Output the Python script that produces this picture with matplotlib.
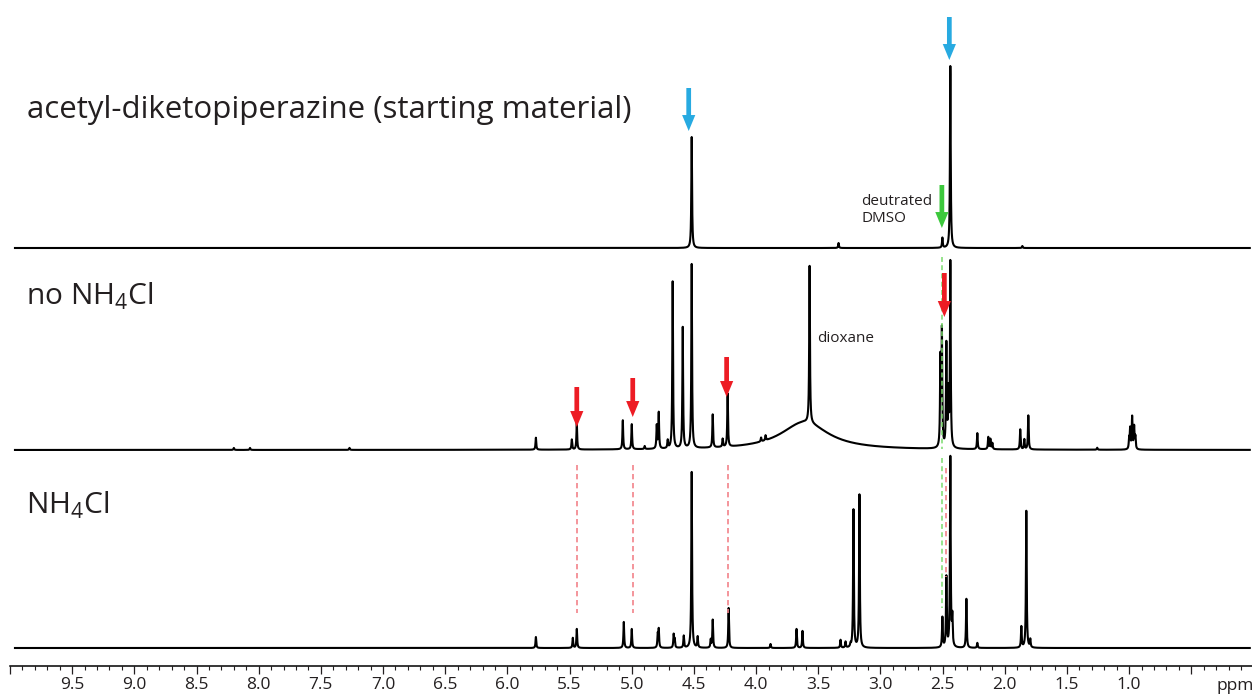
import numpy as np
import matplotlib
matplotlib.use("Agg")
import matplotlib.pyplot as plt
from matplotlib.ticker import MultipleLocator

plt.rcParams['font.family'] = ['Open Sans', 'DejaVu Sans']
plt.rcParams['mathtext.fontset'] = 'custom'
plt.rcParams['mathtext.rm'] = 'Open Sans'

# ---------------- data (ppm positions, peak heights) ----------------
labels = ["acetyl-diketopiperazine (starting material)", "no NH$_\\mathregular{4}$Cl", "NH$_\\mathregular{4}$Cl"]

top_ppm = [4.518, 2.438, 2.502, 3.337, 1.859]
top_h = [111, 182, 10, 5, 2]

mid_ppm = [8.20, 8.07, 7.27, 5.771, 5.482, 5.442, 5.072, 5.000, 4.896, 4.799, 4.783, 4.711,
           4.671, 4.590, 4.518, 4.349, 4.269, 4.229, 3.960, 3.924, 3.570, 2.518, 2.506,
           2.470, 2.454, 2.438, 2.221, 2.133, 2.116, 2.100, 1.876, 1.843, 1.811, 1.257,
           1.000, 0.992, 0.976, 0.960, 0.950]
mid_h = [2, 2, 2, 12, 10, 27, 29, 25, 3, 23, 36, 8,
         167, 121, 184, 33, 8, 53, 4, 5, 157, 87, 115,
         102, 52, 185, 16, 12, 10, 6, 20, 10, 34, 2,
         10, 20, 32, 22, 12]
hump_ppm = [3.61]
hump_h = [28]
hump_w = [0.23]

bot_ppm = [5.771, 5.474, 5.442, 5.064, 5.000, 4.791, 4.783, 4.663, 4.655, 4.582, 4.518, 4.470,
           4.365, 4.349, 4.221, 3.884, 3.675, 3.627, 3.321, 3.281, 3.241, 3.217, 3.169,
           2.502, 2.470, 2.438, 2.422, 2.309, 2.221, 1.867, 1.827, 1.795]
bot_h = [11, 10, 19, 26, 19, 13, 18, 13, 8, 12, 176, 11,
         8, 28, 40, 4, 19, 17, 8, 6, 3, 138, 153,
         30, 70, 190, 28, 49, 5, 21, 137, 8]

# annotation markers (ppm)
blue_arrow_ppm = [4.542, 2.446]
red_arrow_ppm = [5.442, 4.992, 4.237, 2.486]
green_arrow_ppm = [2.506]
red_dash_ppm = [5.442, 4.992, 4.229, 2.470]
green_dash_ppm = [2.506]

major_ticks = [10.0, 9.5, 9.0, 8.5, 8.0, 7.5, 7.0, 6.5, 6.0, 5.5, 5.0, 4.5, 4.0, 3.5, 3.0, 2.5, 2.0, 1.5, 1.0, 0.5]
tick_labels = ["", "9.5", "9.0", "8.5", "8.0", "7.5", "7.0", "6.5", "6.0", "5.5", "5.0", "4.5", "4.0",
               "3.5", "3.0", "2.5", "2.0", "1.5", "1.0", ""]

# ---------------- figure ----------------
W, H = 1252, 696
AXB = 666  # pixel row of the ppm axis
fig = plt.figure(figsize=(W / 100, H / 100), dpi=100)
ax = fig.add_axes([10 / W, (H - AXB) / H, 1 - 10 / W, AXB / H])
PXPPM = 124.5
ax.set_xlim(5 + 621 / PXPPM, 5 - 621 / PXPPM)
ax.set_ylim(0, AXB)


def Y(ypx):
    return AXB - ypx


TOP_BASE, MID_BASE, BOT_BASE = Y(248), Y(450), Y(648)

x = np.linspace(9.96, 0.03, 60000)
W0 = 0.0035


def spectrum(ppm, h, humps=()):
    y = np.zeros_like(x)
    for c, a in zip(ppm, h):
        y += a / (1 + ((x - c) / W0) ** 2)
    for c, a, w in humps:
        y += a / (1 + ((x - c) / w) ** 2)
    return y


lw = 1.5
ax.plot(x, TOP_BASE + spectrum(top_ppm, top_h), color='black', lw=lw)
ax.plot(x, MID_BASE + spectrum(mid_ppm, mid_h, zip(hump_ppm, hump_h, hump_w)), color='black', lw=lw)
ax.plot(x, BOT_BASE + spectrum(bot_ppm, bot_h), color='black', lw=lw)

# dashed guide lines
dash_red = '#F2838A'
dash_green = '#7BDB6E'
red_spans = [(465, 613), (465, 613), (465, 613), (468, 577)]
for p, (a, b) in zip(red_dash_ppm, red_spans):
    ax.plot([p, p], [Y(a), Y(b)], color=dash_red, lw=1.2, linestyle=(0, (3.2, 2.2)))
for p in green_dash_ppm:
    ax.plot([p, p], [Y(257), Y(449)], color=dash_green, lw=1.1, linestyle=(0, (3.2, 2.2)))
    ax.plot([p, p], [Y(458), Y(608)], color=dash_green, lw=1.1, linestyle=(0, (3.2, 2.2)))


def arrow(p, tail, tip, color):
    ax.annotate('', xy=(p, Y(tip)), xytext=(p, Y(tail)),
                arrowprops=dict(arrowstyle='simple,head_length=1.15,head_width=0.95,tail_width=0.34',
                                color=color, lw=0, shrinkA=0, shrinkB=0, mutation_scale=10))


blue = '#27AAE1'
red = '#ED1C24'
green = '#3CC83C'
for p, (a, b) in zip(blue_arrow_ppm, [(88, 131), (17, 60)]):
    arrow(p, a, b, blue)
for p, (a, b) in zip(red_arrow_ppm, [(387, 427), (378, 417), (357, 397), (273, 317)]):
    arrow(p, a, b, red)
for p in green_arrow_ppm:
    arrow(p, 185, 228, green)

# texts
txt = '#231F20'
ax.text(9.865, Y(118), labels[0], fontsize=22.5, color=txt, ha='left', va='baseline')
ax.text(9.87, Y(305), labels[1], fontsize=21.5, color=txt, ha='left', va='baseline')
ax.text(9.87, Y(514), labels[2], fontsize=21.5, color=txt, ha='left', va='baseline')
ax.text(3.51, Y(338), 'dioxane', fontsize=11, color=txt, ha='left', va='center')
ax.text(3.155, Y(210), 'deutrated\nDMSO', fontsize=11, color=txt, ha='left', va='center',
        linespacing=1.15)

# ppm axis
for s in ['top', 'left', 'right']:
    ax.spines[s].set_visible(False)
ax.spines['bottom'].set_linewidth(1.1)
ax.set_yticks([])
ax.set_xticks(major_ticks)
ax.set_xticklabels(tick_labels)
ax.xaxis.set_minor_locator(MultipleLocator(0.1))
ax.tick_params(axis='x', which='major', direction='out', length=5.5, width=0.9, labelsize=12.5,
               pad=2.5, colors=txt)
ax.tick_params(axis='x', which='minor', direction='out', length=3, width=0.8, colors=txt)
ax.text(0.15, Y(686), 'ppm', fontsize=12.5, color=txt, ha='center', va='center', clip_on=False)

fig.savefig('out.png', dpi=100)
